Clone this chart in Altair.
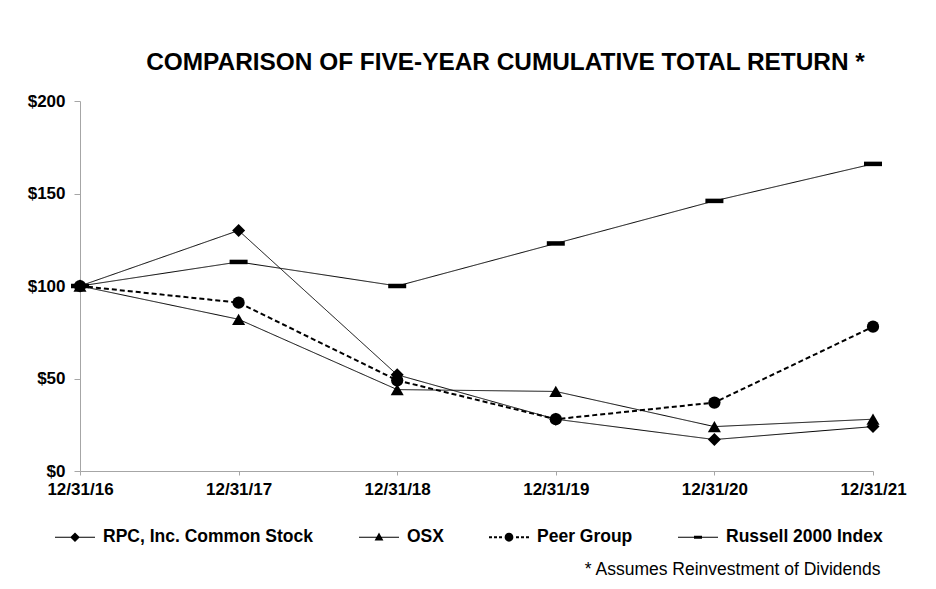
import altair as alt
import pandas as pd

dates = ["12/31/16", "12/31/17", "12/31/18", "12/31/19", "12/31/20", "12/31/21"]
series_names = ["RPC, Inc. Common Stock", "OSX", "Peer Group", "Russell 2000 Index"]
rpc = [100, 130, 52, 28, 17, 24]
osx = [100, 82, 44, 43, 24, 28]
peer = [100, 91, 49, 28, 37, 78]
russell = [100, 113, 100, 123, 146, 166]

values = [rpc, osx, peer, russell]
rows = []
for name, vals in zip(series_names, values):
    for d, v in zip(dates, vals):
        rows.append({"date": d, "series": name, "value": v})
df = pd.DataFrame(rows)

FONT = "Liberation Sans"

# per-series styles
line_dash = [[1, 0], [1, 0], [5, 3], [1, 0]]
line_width = [1, 1, 2, 1]
point_shape = ["diamond", "triangle-up", "circle", "M-1,-0.25H1V0.25H-1Z"]
point_size = [169, 170, 150, 324]

# legend glyphs (line + marker) as filled paths in a [-1,1] box
solid = "M-1,-0.025H1V0.025H-1Z"
dashes = "".join(
    f"M{a},-0.05H{b}V0.05H{a}Z"
    for a, b in [(-1, -0.85), (-0.75, -0.6), (-0.5, -0.35),
                 (0.35, 0.5), (0.6, 0.75), (0.85, 1)]
)
legend_paths = [
    solid + "M0,-0.24L0.24,0L0,0.24L-0.24,0Z",
    solid + "M0,-0.24L0.22,0.16L-0.22,0.16Z",
    dashes + "M-0.22,0A0.22,0.22,0,1,0,0.22,0A0.22,0.22,0,1,0,-0.22,0Z",
    solid + "M-0.2,-0.07H0.2V0.07H-0.2Z",
]

x_enc = alt.X("date:O", sort=dates, scale=alt.Scale(type="point", padding=0),
              axis=alt.Axis(title="* Assumes Reinvestment of Dividends", labelAngle=0,
                            labelFont=FONT, labelFontSize=17, labelFontWeight="bold",
                            labelColor="black", labelPadding=6, tickSize=4,
                            tickColor="#a6a6a6", domainColor="#a6a6a6", grid=False,
                            titleFont=FONT, titleFontSize=17.5, titleFontWeight="normal",
                            titleColor="black", titleX=800, titleY=103,
                            titleAlign="right", titleBaseline="alphabetic"))
y_enc = alt.Y("value:Q", scale=alt.Scale(domain=[0, 200]),
              axis=alt.Axis(title=None, values=[0, 50, 100, 150, 200], format="$.0f",
                            labelFont=FONT, labelFontSize=17, labelFontWeight="bold",
                            labelColor="black", labelPadding=9, tickSize=6,
                            tickColor="#a6a6a6", domainColor="#a6a6a6", grid=False))

base = alt.Chart(df)
layers = []
for i, name in enumerate(series_names):
    layers.append(
        base.transform_filter(alt.datum.series == name).mark_line(
            color="black", strokeDash=line_dash[i], strokeWidth=line_width[i]
        ).encode(x=x_enc, y=y_enc)
    )
for i, name in enumerate(series_names):
    layers.append(
        base.transform_filter(alt.datum.series == name).mark_point(
            filled=True, color="black", opacity=1, shape=point_shape[i], size=point_size[i]
        ).encode(x=x_enc, y=y_enc)
    )

legend_layer = base.transform_filter("false").mark_point(
    filled=True, color="black", opacity=1
).encode(
    shape=alt.Shape("series:N",
                    scale=alt.Scale(domain=series_names, range=legend_paths),
                    legend=alt.Legend(
                        title=None, orient="none", direction="horizontal",
                        legendX=-25, legendY=416, columns=4, columnPadding=45,
                        labelFont=FONT, labelFontSize=17.5, labelFontWeight="bold",
                        labelColor="black", labelOffset=8, labelLimit=400,
                        symbolSize=1600, padding=0, symbolFillColor="black",
                        symbolOpacity=1, symbolStrokeWidth=0)),
)
layers.append(legend_layer)

chart = alt.layer(*layers).properties(
    width=793, height=370,
    title=alt.TitleParams("COMPARISON OF FIVE-YEAR CUMULATIVE TOTAL RETURN *",
                          font=FONT, fontSize=24.4, fontWeight="bold", color="black",
                          anchor="middle", dx=29, dy=32, offset=30, baseline="alphabetic"),
    autosize=alt.AutoSizeParams(type="none"),
    padding={"left": 72, "top": 93, "right": 55, "bottom": 110},
    background="white",
).configure_view(stroke=None)

chart.save("out.html", embed_options={"renderer": "svg", "actions": False})
